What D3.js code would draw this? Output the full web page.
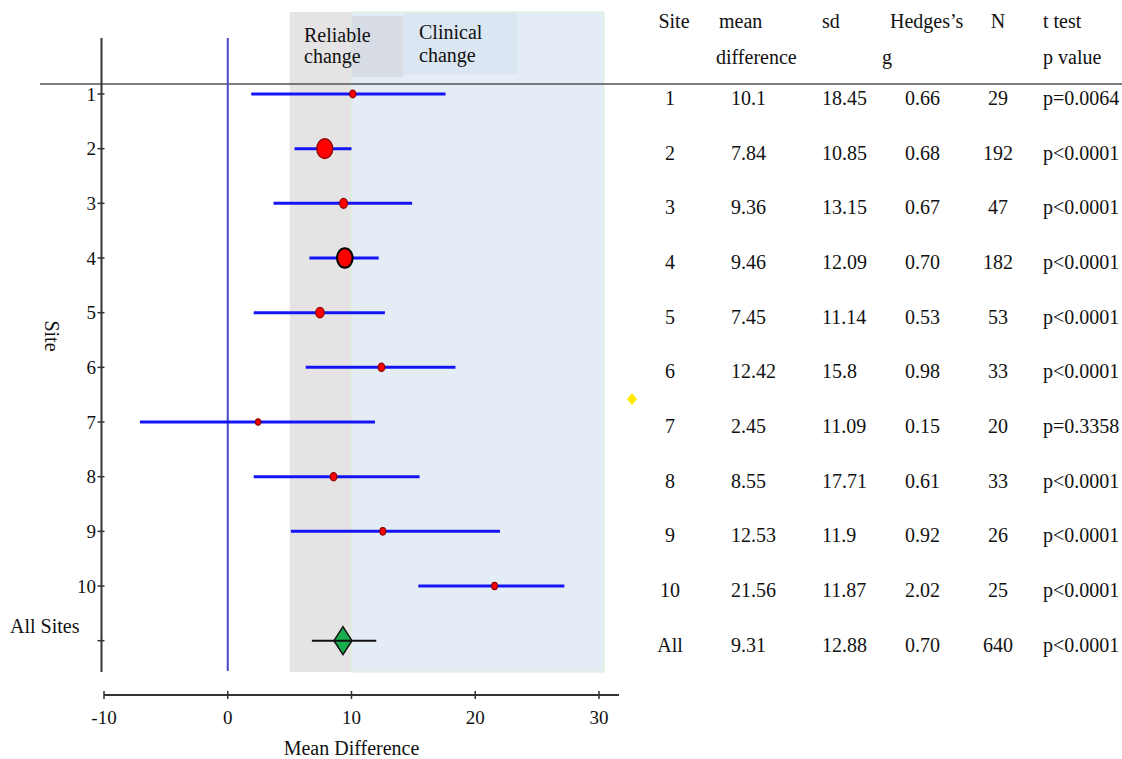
<!DOCTYPE html>
<html><head><meta charset="utf-8">
<script src="https://cdn.jsdelivr.net/npm/d3@7"></script>
<style>body{margin:0;background:#fff}svg{display:block}text{font-family:"Liberation Serif","Times New Roman",serif;fill:#111}</style>
</head><body><svg id="c" width="1122" height="759"></svg>
<script>
// ---- data ----
const sites = ["1","2","3","4","5","6","7","8","9","10","All"];
const meanDiff = [10.1, 7.84, 9.36, 9.46, 7.45, 12.42, 2.45, 8.55, 12.53, 21.56, 9.31];
const ciLow  = [1.9, 5.4, 3.7, 6.6, 2.1, 6.3, -7.1, 2.1, 5.1, 15.4, 6.8];
const ciHigh = [17.6, 10.0, 14.9, 12.2, 12.7, 18.4, 11.9, 15.5, 22.0, 27.2, 12.0];
const sdVals = ["18.45","10.85","13.15","12.09","11.14","15.8","11.09","17.71","11.9","11.87","12.88"];
const meanLabels = ["10.1","7.84","9.36","9.46","7.45","12.42","2.45","8.55","12.53","21.56","9.31"];
const hedgesG = ["0.66","0.68","0.67","0.70","0.53","0.98","0.15","0.61","0.92","2.02","0.70"];
const nVals = [29, 192, 47, 182, 53, 33, 20, 33, 26, 25, 640];
const pVals = ["p=0.0064","p<0.0001","p<0.0001","p<0.0001","p<0.0001","p<0.0001","p=0.3358","p<0.0001","p<0.0001","p<0.0001","p<0.0001"];
const xTicks = [-10, 0, 10, 20, 30];
const reliableBand = [5, 10];
const clinicalBand = [10, 30.4];

// ---- layout ----
const svg = d3.select("#c");
const x = d3.scaleLinear().domain([-10, 30]).range([104, 599]);
const y = d3.scalePoint().domain(sites).range([94, 640.7]);
const rx = d3.scaleSqrt().domain([0, 192]).range([0, 8]);
const plotTop = 12, plotBottom = 672;

// bands
svg.append("rect").attr("x", x(reliableBand[0])).attr("y", plotTop)
  .attr("width", x(reliableBand[1]) - x(reliableBand[0])).attr("height", plotBottom - plotTop)
  .attr("fill", "#e6e3e4");
svg.append("rect").attr("x", x(clinicalBand[0])).attr("y", plotTop)
  .attr("width", x(clinicalBand[1]) - x(clinicalBand[0])).attr("height", plotBottom - plotTop)
  .attr("fill", "#e4ecf6").attr("stroke", "#dcf2dc").attr("stroke-width", 1.2);
// label boxes
svg.append("rect").attr("x", x(10)).attr("y", 16).attr("width", 52).attr("height", 61).attr("fill", "#d7dce5");
svg.append("rect").attr("x", x(10) + 52).attr("y", 13).attr("width", 114).attr("height", 61).attr("fill", "#dbe6f3");
const lab = svg.append("g").attr("font-size", 20);
lab.append("text").attr("x", 304).attr("y", 42).text("Reliable");
lab.append("text").attr("x", 304).attr("y", 63).text("change");
lab.append("text").attr("x", 419).attr("y", 39).text("Clinical");
lab.append("text").attr("x", 419).attr("y", 62).text("change");

// header line
svg.append("line").attr("x1", 40).attr("x2", 1122).attr("y1", 84).attr("y2", 84)
  .attr("stroke", "#555").attr("stroke-width", 1.6);

// zero line
svg.append("line").attr("x1", x(0)).attr("x2", x(0)).attr("y1", 38).attr("y2", 671)
  .attr("stroke", "#4848c4").attr("stroke-width", 2);

// y axis
const yAxisX = 101.5;
svg.append("line").attr("x1", yAxisX).attr("x2", yAxisX).attr("y1", 38).attr("y2", 672)
  .attr("stroke", "#333").attr("stroke-width", 2);
const yt = svg.append("g").selectAll("g").data(sites).join("g")
  .attr("transform", d => `translate(0,${y(d)})`);
yt.append("line").attr("x1", yAxisX - 4).attr("x2", yAxisX + 3).attr("stroke", "#333").attr("stroke-width", 1.5);
yt.filter(d => d !== "All").append("text").attr("x", 96).attr("text-anchor", "end")
  .attr("dy", "0.35em").attr("font-size", 19).text(d => d);
svg.append("text").attr("x", 10).attr("y", 633).attr("font-size", 20).text("All Sites");
svg.append("text").attr("transform", "translate(45,336) rotate(90)").attr("text-anchor", "middle")
  .attr("font-size", 20).text("Site");

// x axis
const xAxisY = 695;
svg.append("line").attr("x1", x(-10)).attr("x2", 619).attr("y1", xAxisY).attr("y2", xAxisY)
  .attr("stroke", "#333").attr("stroke-width", 2);
const xt = svg.append("g").selectAll("g").data(xTicks).join("g")
  .attr("transform", d => `translate(${x(d)},${xAxisY})`);
xt.append("line").attr("y1", -4).attr("y2", 4).attr("stroke", "#333").attr("stroke-width", 1.5);
xt.append("text").attr("y", 29).attr("text-anchor", "middle").attr("font-size", 19).text(d => d);
svg.append("text").attr("x", x(10)).attr("y", 755).attr("text-anchor", "middle").attr("font-size", 20).text("Mean Difference");

// CI lines and markers for sites
const siteIdx = d3.range(10);
svg.append("g").selectAll("line").data(siteIdx).join("line")
  .attr("x1", i => x(ciLow[i])).attr("x2", i => x(ciHigh[i]))
  .attr("y1", i => y(sites[i])).attr("y2", i => y(sites[i]))
  .attr("stroke", "#1414f5").attr("stroke-width", 3);
svg.append("g").selectAll("ellipse").data(siteIdx).join("ellipse")
  .attr("cx", i => x(meanDiff[i])).attr("cy", i => y(sites[i]))
  .attr("rx", i => rx(nVals[i])).attr("ry", i => rx(nVals[i]) * 1.25)
  .attr("fill", "#ff0000")
  .attr("stroke", i => i === 3 ? "#000" : "#8a0000")
  .attr("stroke-width", i => i === 3 ? 2 : 1.2);

// overall diamond
const ai = 10, ay = y(sites[ai]), ax = x(meanDiff[ai]);
svg.append("path").attr("d", `M${ax},${ay - 14}L${ax + 9},${ay}L${ax},${ay + 14}L${ax - 9},${ay}Z`)
  .attr("fill", "#17ad4c").attr("stroke", "#111").attr("stroke-width", 1.5);
svg.append("line").attr("x1", x(ciLow[ai])).attr("x2", x(ciHigh[ai])).attr("y1", ay).attr("y2", ay)
  .attr("stroke", "#111").attr("stroke-width", 2);

// stray yellow marker
svg.append("path").attr("d", "M632,393L637,399L632,405L627,399Z").attr("fill", "#ffe800");

// table
const tbl = svg.append("g").attr("font-size", 20);
const hdr = [
  ["Site", 674, 28, "middle"], ["mean", 719, 28, "start"], ["difference", 716, 64, "start"],
  ["sd", 822, 28, "start"], ["Hedges’s", 890, 28, "start"], ["g", 882, 64, "start"],
  ["N", 998, 28, "middle"], ["t test", 1043, 28, "start"], ["p value", 1043, 64, "start"]
];
tbl.selectAll("text.h").data(hdr).join("text").attr("class", "h")
  .attr("x", d => d[1]).attr("y", d => d[2]).attr("text-anchor", d => d[3]).text(d => d[0]);
const rows = tbl.selectAll("g.r").data(d3.range(11)).join("g").attr("class", "r")
  .attr("transform", i => `translate(0,${y(sites[i]) + 11})`);
rows.append("text").attr("x", 670).attr("text-anchor", "middle").text(i => sites[i]);
rows.append("text").attr("x", 731).text(i => meanLabels[i]);
rows.append("text").attr("x", 822).text(i => sdVals[i]);
rows.append("text").attr("x", 905).text(i => hedgesG[i]);
rows.append("text").attr("x", 998).attr("text-anchor", "middle").text(i => nVals[i]);
rows.append("text").attr("x", 1043).text(i => pVals[i]);
</script></body></html>
